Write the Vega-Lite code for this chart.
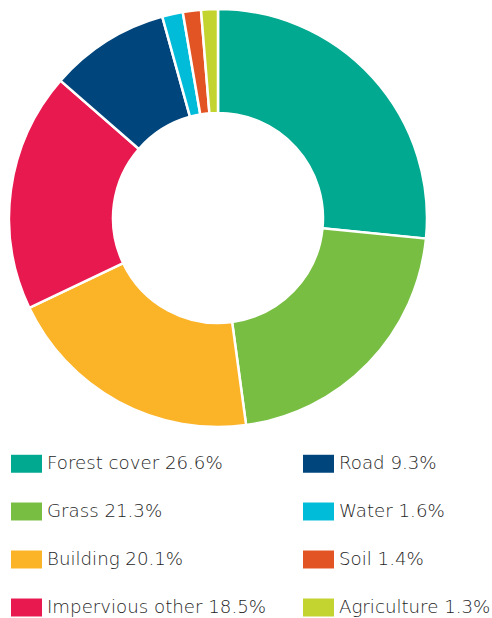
{
  "$schema": "https://vega.github.io/schema/vega-lite/v6.json",
  "width": 436,
  "height": 436,
  "padding": 0,
  "autosize": {"type": "pad"},
  "background": "white",
  "data": {
    "values": [
      {"category": "Forest cover 26.6%", "value": 26.6, "ord": 1},
      {"category": "Grass 21.3%", "value": 21.3, "ord": 2},
      {"category": "Building 20.1%", "value": 20.1, "ord": 3},
      {"category": "Impervious other 18.5%", "value": 18.5, "ord": 4},
      {"category": "Road 9.3%", "value": 9.3, "ord": 5},
      {"category": "Water 1.6%", "value": 1.6, "ord": 6},
      {"category": "Soil 1.4%", "value": 1.4, "ord": 7},
      {"category": "Agriculture 1.3%", "value": 1.3, "ord": 8}
    ]
  },
  "mark": {"type": "arc", "outerRadius": 209, "innerRadius": 105, "stroke": "white", "strokeWidth": 2.5},
  "encoding": {
    "theta": {"field": "value", "type": "quantitative", "stack": true},
    "order": {"field": "ord", "type": "quantitative"},
    "color": {
      "field": "category",
      "type": "nominal",
      "scale": {
        "domain": ["Forest cover 26.6%", "Grass 21.3%", "Building 20.1%", "Impervious other 18.5%", "Road 9.3%", "Water 1.6%", "Soil 1.4%", "Agriculture 1.3%"],
        "range": ["#00A98F", "#78BE43", "#FBB328", "#E8194F", "#00457C", "#00BCD9", "#E35424", "#C3D32F"]
      },
      "legend": {
        "orient": "none",
        "legendX": 11,
        "legendY": 448,
        "columns": 2,
        "title": null,
        "symbolType": "M-1,-0.58H1V0.58H-1Z",
        "symbolSize": 961,
        "symbolStrokeWidth": 0,
        "symbolOpacity": 1,
        "labelFont": "DejaVu Sans",
        "labelFontWeight": 300,
        "labelFontSize": 18.2,
        "labelColor": "#1e1e1e",
        "labelOffset": 5,
        "labelLimit": 400,
        "rowPadding": 23,
        "columnPadding": 36
      }
    }
  },
  "view": {"stroke": null}
}
